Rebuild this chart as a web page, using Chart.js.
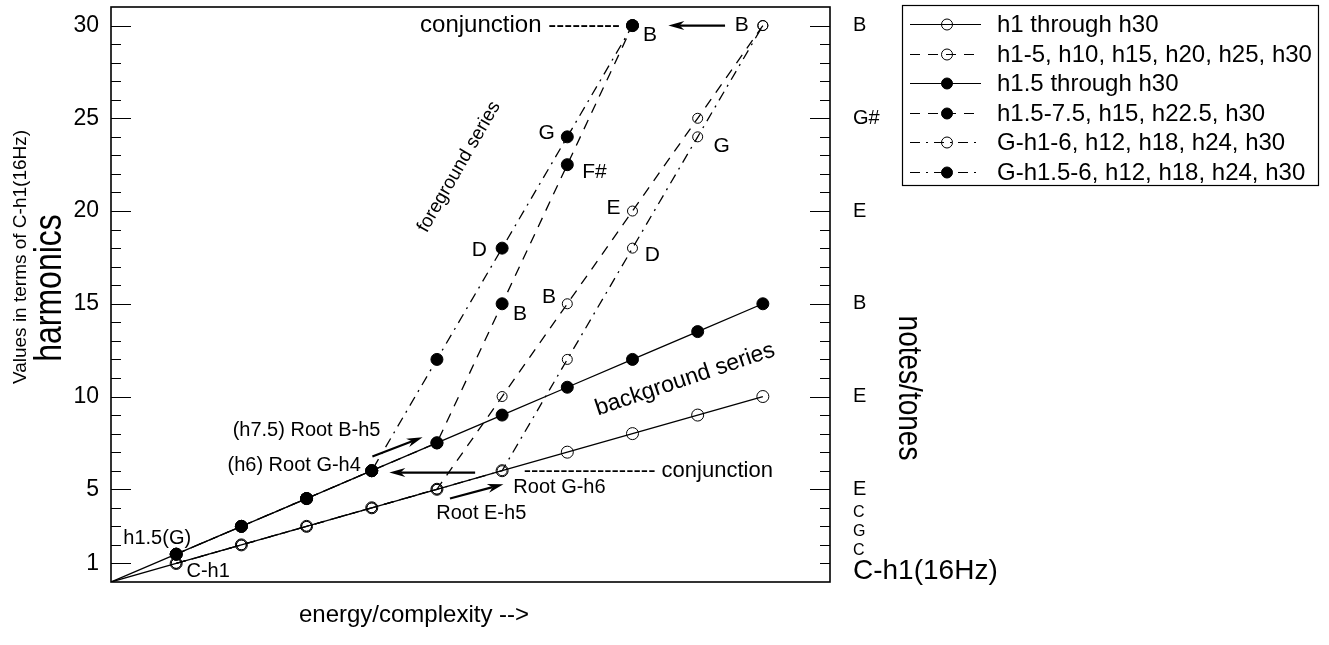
<!DOCTYPE html>
<html lang="en">
<head>
<meta charset="UTF-8">
<title>Harmonics and notes</title>
<script src="https://cdn.jsdelivr.net/npm/chart.js"></script>
<style>
  body { margin: 0; background: #fff; }
  #wrap { width: 1329px; height: 645px; }
</style>
</head>
<body>
<div id="wrap"><canvas id="chart" width="1329" height="645"></canvas></div>
<script>
const FONT = "'Liberation Sans', Arial, Helvetica, sans-serif";

// energy/complexity steps along the bottom
const steps = [0, 1, 2, 3, 4, 5, 6, 7, 8, 9, 10];

// harmonic values, one list per series
const h1Through = [0, 1, 2, 3, 4, 5, 6, 7, 8, 9, 10];           // from step 0
const h15Through = [0, 1.5, 3, 4.5, 6, 7.5, 9, 10.5, 12, 13.5, 15]; // from step 0
const h1By5 = [1, 2, 3, 4, 5, 10, 15, 20, 25, 30];               // from step 1
const h15By75 = [1.5, 3, 4.5, 6, 7.5, 15, 22.5, 30];             // from step 1
const gH1By6 = [1, 2, 3, 4, 5, 6, 12, 18, 24, 30];               // from step 1
const gH15By6 = [1.5, 3, 4.5, 6, 12, 18, 24, 30];                // from step 1

const seriesNames = [
  'h1 through h30',
  'h1-5, h10, h15, h20, h25, h30',
  'h1.5 through h30',
  'h1.5-7.5, h15, h22.5, h30',
  'G-h1-6, h12, h18, h24, h30',
  'G-h1.5-6, h12, h18, h24, h30'
];

// axis labels
const harmonicTicks = [1, 5, 10, 15, 20, 25, 30];
const noteTicks = [0.6, 1.68, 2.7, 3.72, 5, 10, 15, 20, 25, 30];
const noteLabels = ['C-h1(16Hz)', 'C', 'G', 'C', 'E', 'E', 'B', 'E', 'G#', 'B'];

// text notes placed in data coordinates
const notes = [
  { text: 'conjunction ---------', x: 7.81, y: 30, align: 'right', size: 24 },
  { text: 'B', x: 8.27, y: 29.5 },
  { text: 'B', x: 9.676, y: 30 },
  { text: 'G', x: 6.685, y: 24.2 },
  { text: 'F#', x: 7.416, y: 22.12 },
  { text: 'E', x: 7.707, y: 20.15 },
  { text: 'G', x: 9.37, y: 23.5 },
  { text: 'D', x: 5.652, y: 17.9 },
  { text: 'D', x: 8.305, y: 17.64 },
  { text: 'B', x: 6.72, y: 15.35 },
  { text: 'B', x: 6.276, y: 14.45 },
  { text: 'foreground series', x: 5.34, y: 22.38, size: 19, angle: -60 },
  { text: 'background series', x: 8.806, y: 10.92, size: 23, angle: -18.6 },
  { text: '(h7.5) Root B-h5', x: 3.0, y: 8.17, size: 20 },
  { text: '(h6) Root G-h4', x: 2.81, y: 6.29, size: 20 },
  { text: '------------------ conjunction', x: 6.33, y: 5.98, align: 'left', size: 22 },
  { text: 'Root G-h6', x: 6.88, y: 5.12, size: 20 },
  { text: 'Root E-h5', x: 5.68, y: 3.69, size: 20 },
  { text: 'h1.5(G)', x: 0.709, y: 2.36, size: 20 },
  { text: 'C-h1', x: 1.49, y: 0.55, size: 20 }
];

const arrows = [
  { from: [9.42, 30], to: [8.55, 30] },
  { from: [4.01, 6.77], to: [4.78, 7.81] },
  { from: [5.586, 5.9], to: [4.27, 5.9] },
  { from: [5.2, 4.5], to: [6.02, 5.27] }
];

const DASHED = [10, 8];
const DOTDASH = [10, 6, 2, 6];

function points(vals, start) {
  return vals.map((v, i) => ({ x: steps[start + i], y: v }));
}

function series(label, vals, start, dash, filled, r) {
  return {
    label: label,
    data: points(vals, start),
    borderColor: '#000',
    borderWidth: 1.3,
    borderDash: dash,
    showLine: true,
    pointRadius: vals.map(v => v === 0 ? 0 : r),
    pointBackgroundColor: filled ? '#000' : 'rgba(0,0,0,0)',
    pointBorderColor: '#000',
    pointBorderWidth: 1,
    filled: filled
  };
}

const datasets = [
  series(seriesNames[0], h1Through, 0, [], false, 6),
  series(seriesNames[1], h1By5, 1, DASHED, false, 5),
  series(seriesNames[2], h15Through, 0, [], true, 6),
  series(seriesNames[3], h15By75, 1, DASHED, true, 6),
  series(seriesNames[4], gH1By6, 1, DOTDASH, false, 5),
  series(seriesNames[5], gH15By6, 1, DOTDASH, true, 6)
];

function font(size) { return size + 'px ' + FONT; }

function drawArrow(ctx, x1, y1, x2, y2) {
  const ang = Math.atan2(y2 - y1, x2 - x1);
  const len = 16, half = 4.5;
  const cos = Math.cos(ang), sin = Math.sin(ang);
  ctx.lineWidth = 2.2;
  ctx.beginPath();
  ctx.moveTo(x1, y1);
  ctx.lineTo(x2 - cos * len * 0.7, y2 - sin * len * 0.7);
  ctx.stroke();
  ctx.beginPath();
  ctx.moveTo(x2, y2);
  ctx.lineTo(x2 - cos * len - sin * half, y2 - sin * len + cos * half);
  ctx.lineTo(x2 - cos * len * 0.7, y2 - sin * len * 0.7);
  ctx.lineTo(x2 - cos * len + sin * half, y2 - sin * len - cos * half);
  ctx.closePath();
  ctx.fill();
}

// rotated title; sx widens the glyphs across the page
function sideTitle(ctx, text, x, y, size, rot, sx) {
  ctx.save();
  ctx.translate(x, y);
  ctx.scale(sx, 1);
  ctx.rotate(rot);
  ctx.font = font(size);
  ctx.fillText(text, 0, 0);
  ctx.restore();
}

const extras = {
  id: 'extras',
  afterDraw(chart) {
    const ctx = chart.ctx;
    const xs = chart.scales.x, ys = chart.scales.y;
    const area = chart.chartArea;
    ctx.save();
    ctx.strokeStyle = '#000';
    ctx.fillStyle = '#000';

    // frame
    ctx.lineWidth = 1.6;
    ctx.strokeRect(area.left, area.top, area.right - area.left, area.bottom - area.top);

    // inward tick marks on both sides
    ctx.lineWidth = 1.2;
    for (let v = 1; v <= 30; v++) {
      const py = Math.round(ys.getPixelForValue(v)) + 0.5;
      const leftLen = (v === 1 || v % 5 === 0) ? 20 : 10;
      const rightLen = v % 5 === 0 ? 20 : 10;
      ctx.beginPath();
      ctx.moveTo(area.left, py);
      ctx.lineTo(area.left + leftLen, py);
      ctx.moveTo(area.right, py);
      ctx.lineTo(area.right - rightLen, py);
      ctx.stroke();
    }

    // notes
    ctx.textBaseline = 'middle';
    notes.forEach(n => {
      ctx.save();
      ctx.font = font(n.size || 21);
      ctx.textAlign = n.align || 'center';
      ctx.translate(xs.getPixelForValue(n.x), ys.getPixelForValue(n.y));
      if (n.angle) ctx.rotate(n.angle * Math.PI / 180);
      ctx.fillText(n.text, 0, 0);
      ctx.restore();
    });

    arrows.forEach(a => {
      drawArrow(ctx, xs.getPixelForValue(a.from[0]), ys.getPixelForValue(a.from[1]),
        xs.getPixelForValue(a.to[0]), ys.getPixelForValue(a.to[1]));
    });

    // axis titles
    ctx.textAlign = 'center';
    ctx.textBaseline = 'alphabetic';
    ctx.font = font(24);
    ctx.fillText('energy/complexity -->', 414, 622);

    sideTitle(ctx, 'harmonics', 61, 288, 32, -Math.PI / 2, 1.2);
    sideTitle(ctx, 'Values in terms of C-h1(16Hz)', 26, 257, 19, -Math.PI / 2, 1);
    sideTitle(ctx, 'notes/tones', 899, 388, 28, Math.PI / 2, 1.17);

    // legend
    const box = { left: 902, top: 5, right: 1318, bottom: 185 };
    ctx.lineWidth = 1.2;
    ctx.strokeRect(box.left + 0.5, box.top + 0.5, box.right - box.left, box.bottom - box.top);
    ctx.font = font(24);
    ctx.textAlign = 'left';
    ctx.textBaseline = 'middle';
    chart.data.datasets.forEach((ds, i) => {
      const y = Math.round(24 + i * 29.6) + 0.5;
      ctx.save();
      ctx.lineWidth = 1.2;
      ctx.setLineDash(ds.borderDash);
      ctx.beginPath();
      ctx.moveTo(910, y);
      ctx.lineTo(981, y);
      ctx.stroke();
      ctx.restore();
      ctx.beginPath();
      ctx.arc(947, y, 5.5, 0, Math.PI * 2);
      ctx.lineWidth = 1;
      if (ds.filled) ctx.fill();
      ctx.stroke();
      ctx.fillText(ds.label, 997, y + 1);
    });

    ctx.restore();
  }
};

new Chart(document.getElementById('chart'), {
  type: 'scatter',
  data: { datasets: datasets },
  options: {
    responsive: false,
    animation: false,
    devicePixelRatio: 1,
    layout: { padding: { top: 6, left: 0, right: 0, bottom: 0 } },
    plugins: { legend: { display: false }, tooltip: { enabled: false } },
    scales: {
      x: {
        type: 'linear', position: 'bottom', min: 0, max: 11.03,
        ticks: { display: false },
        grid: { display: false, drawTicks: false },
        border: { display: false },
        afterFit: s => { s.height = 63; s.paddingLeft = 0; s.paddingRight = 0; }
      },
      y: {
        type: 'linear', position: 'left', min: 0, max: 31,
        afterBuildTicks: s => { s.ticks = harmonicTicks.map(v => ({ value: v })); },
        ticks: { color: '#000', font: { family: FONT, size: 23 }, padding: 12 },
        grid: { display: false, drawTicks: false },
        border: { display: false },
        afterFit: s => { s.width = 111; s.paddingTop = 0; s.paddingBottom = 0; }
      },
      y2: {
        type: 'linear', position: 'right', min: 0, max: 31,
        afterBuildTicks: s => { s.ticks = noteTicks.map(v => ({ value: v })); },
        ticks: {
          color: '#000',
          padding: 23,
          callback: (v, i) => noteLabels[i],
          font: c => {
            let size = 20;
            if (c.index === 0) size = 28;
            else if (c.index <= 3) size = 16;
            return { family: FONT, size: size };
          }
        },
        grid: { display: false, drawTicks: false },
        border: { display: false },
        afterFit: s => { s.width = 499; s.paddingTop = 0; s.paddingBottom = 0; }
      }
    }
  },
  plugins: [extras]
});
</script>
</body>
</html>
